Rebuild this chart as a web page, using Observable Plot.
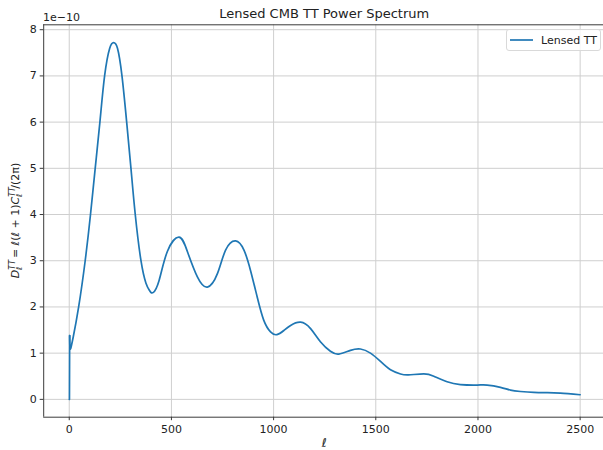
<!DOCTYPE html>
<html>
<head>
<meta charset="utf-8">
<script src="https://cdn.jsdelivr.net/npm/d3@7"></script>
<script src="https://cdn.jsdelivr.net/npm/@observablehq/plot@0.6"></script>
<style>
  html, body { margin: 0; padding: 0; background: #fff; }
  svg { display: block; }
</style>
</head>
<body>
<div id="chart"></div>
<script>
// multipole ℓ
const ell = [0, 1, 2, 4, 10, 20, 46, 78, 104, 127, 150, 173, 198, 217, 236, 258, 281, 302, 323, 351, 375, 392, 410, 440, 480, 537, 578, 627, 676, 725, 765, 814, 855, 887, 920, 952, 985, 1016, 1050, 1083, 1132, 1181, 1230, 1278, 1319, 1376, 1425, 1474, 1523, 1572, 1621, 1660, 1735, 1784, 1849, 1914, 1996, 2045, 2110, 2159, 2208, 2273, 2339, 2403, 2500];
// D_ell^TT in units of 1e-10
const dl = [0, 0, 1.38, 1.10, 1.15, 1.36, 2.0, 3.0, 4.0, 5.0, 6.0, 7.0, 7.60, 7.72, 7.60, 7.0, 6.0, 5.0, 4.0, 3.0, 2.52, 2.36, 2.31, 2.58, 3.20, 3.51, 3.20, 2.65, 2.43, 2.72, 3.23, 3.43, 3.23, 2.79, 2.21, 1.71, 1.46, 1.40, 1.49, 1.60, 1.67, 1.53, 1.24, 1.04, 0.98, 1.06, 1.09, 1.00, 0.82, 0.64, 0.55, 0.53, 0.55, 0.50, 0.38, 0.32, 0.31, 0.31, 0.26, 0.20, 0.17, 0.15, 0.145, 0.135, 0.10];
const xTicks = [0, 500, 1000, 1500, 2000, 2500];
const yTicks = [0, 1, 2, 3, 4, 5, 6, 7, 8];
const title = "Lensed CMB TT Power Spectrum";
const seriesName = "Lensed TT";

const data = ell.map((l, i) => ({ell: l, dl: dl[i]}));
const head = data.slice(0, 3);   // ℓ = 0..2 (straight segments)
const body = data.slice(2);      // ℓ ≥ 2 (smooth)

const x0 = -125, x1 = 2625, y0 = -0.386, y1 = 8.106;
const font = "DejaVu Sans, sans-serif";
const gridColor = "#cfcfcf";
const spine = "#3a3a3a";
const blue = "#1f77b4";

const plot = Plot.plot({
  width: 603,
  height: 450,
  marginLeft: 43.2,
  marginRight: 0,
  marginTop: 24.3,
  marginBottom: 33.3,
  style: {fontFamily: font, fontSize: "11px", color: "#222", background: "#fff"},
  x: {domain: [x0, x1], range: [43.2, 605.2]},
  y: {domain: [y0, y1], range: [416.7, 24.3]},
  marks: [
    Plot.gridX(xTicks, {stroke: gridColor, strokeOpacity: 1, strokeWidth: 1}),
    Plot.gridY(yTicks, {stroke: gridColor, strokeOpacity: 1, strokeWidth: 1}),
    Plot.line(head, {x: "ell", y: "dl", stroke: blue, strokeWidth: 1.7}),
    Plot.line(body, {x: "ell", y: "dl", stroke: blue, strokeWidth: 1.7, curve: "natural"}),
    Plot.ruleX([x0], {stroke: spine, strokeWidth: 1}),
    Plot.ruleX([x1], {stroke: spine, strokeWidth: 1}),
    Plot.ruleY([y0], {stroke: spine, strokeWidth: 1}),
    Plot.ruleY([y1], {stroke: spine, strokeWidth: 1}),
    Plot.axisX({ticks: xTicks, tickFormat: d => String(d), tickSize: 3.5, tickPadding: 4, label: null, stroke: spine, fontSize: 11, fill: "#222"}),
    Plot.axisY({ticks: yTicks, tickFormat: d => String(d), tickSize: 3.5, tickPadding: 3.5, label: null, stroke: spine, fontSize: 11, fill: "#222"})
  ]
});

document.getElementById("chart").appendChild(plot);

const svg = d3.select(plot);
const xs = plot.scale("x"), ys = plot.scale("y");
const cx = (xs.apply(x0) + xs.apply(x1)) / 2;

// title
svg.append("text")
  .attr("x", cx).attr("y", 18)
  .attr("text-anchor", "middle")
  .attr("font-family", font).attr("font-size", 13)
  .attr("fill", "#222")
  .text(title);

// offset text
svg.append("text")
  .attr("x", 43).attr("y", 21)
  .attr("text-anchor", "start")
  .attr("font-family", font).attr("font-size", 11)
  .attr("fill", "#222")
  .text("1e\u221210");

// x label
svg.append("text")
  .attr("x", cx).attr("y", 447)
  .attr("text-anchor", "middle")
  .attr("font-family", font).attr("font-size", 12)
  .attr("font-style", "italic")
  .attr("fill", "#222")
  .text("\u2113");

// y label (mathtext style)
const yl = svg.append("text")
  .attr("transform", `translate(19,${(ys.apply(y0) + ys.apply(y1)) / 2}) rotate(-90)`)
  .attr("text-anchor", "middle")
  .attr("font-family", font).attr("font-size", 11)
  .attr("fill", "#222");
function part(t, opts = {}) {
  const s = yl.append("tspan").text(t);
  if (opts.i) s.attr("font-style", "italic");
  if (opts.fs) s.attr("font-size", opts.fs);
  if (opts.dx) s.attr("dx", opts.dx);
  if (opts.dy) s.attr("dy", opts.dy);
  return s;
}
part("D", {i: true});
part("TT", {i: true, fs: 8, dy: -4.5});
part("\u2113", {i: true, fs: 8, dx: -10, dy: 7.5});
part(" = ", {dx: 5, dy: -3});
part("\u2113", {i: true});
part("(");
part("\u2113", {i: true});
part(" + 1)");
part("C", {i: true});
part("TT", {i: true, fs: 8, dy: -4.5});
part("\u2113", {i: true, fs: 8, dx: -10, dy: 7.5});
part("/(2\u03c0)", {dx: 5, dy: -3});

// legend
const lg = svg.append("g");
lg.append("rect")
  .attr("x", 506.5).attr("y", 29.5).attr("width", 94).attr("height", 21)
  .attr("rx", 2.5)
  .attr("fill", "#fff").attr("fill-opacity", 0.8)
  .attr("stroke", "#d9d9d9").attr("stroke-width", 1);
lg.append("line")
  .attr("x1", 510).attr("x2", 533).attr("y1", 40).attr("y2", 40)
  .attr("stroke", blue).attr("stroke-width", 1.7);
lg.append("text")
  .attr("x", 541).attr("y", 44)
  .attr("text-anchor", "start")
  .attr("font-family", font).attr("font-size", 11)
  .attr("fill", "#222")
  .text(seriesName);
</script>
</body>
</html>
